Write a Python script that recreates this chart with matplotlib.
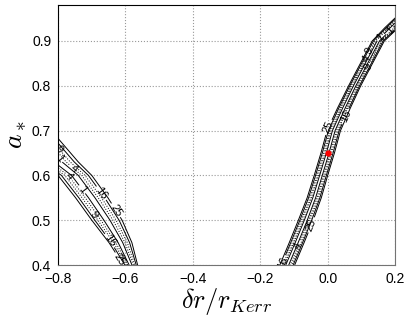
import numpy as np
from matplotlib import pyplot as plt

plt.rcParams['font.family'] = ['Liberation Sans', 'DejaVu Sans']
plt.rcParams['mathtext.fontset'] = 'cm'

# valley centre lines (a_* -> delta r / r_Kerr)
right_a = [0.38, 0.40, 0.45, 0.50, 0.55, 0.60, 0.65, 0.70, 0.75, 0.80, 0.85, 0.90, 0.93, 0.98]
right_x = [-0.13, -0.12, -0.092, -0.065, -0.04, -0.02, 0.0, 0.018, 0.048, 0.08, 0.115, 0.15, 0.19, 0.26]
right_hw = [0.022, 0.022, 0.022, 0.022, 0.021, 0.02, 0.02, 0.02, 0.019, 0.018, 0.018, 0.018, 0.02, 0.02]

left_a = [0.38, 0.40, 0.45, 0.50, 0.55, 0.60, 0.63, 0.70]
left_x = [-0.575, -0.585, -0.615, -0.655, -0.70, -0.75, -0.80, -0.88]
left_hw = [0.02, 0.021, 0.034, 0.045, 0.048, 0.05, 0.06, 0.06]

levels = [1, 4, 9, 16, 25]
styles = ['solid', 'dotted', 'dotted', 'solid', 'solid']
best_fit = (0.0, 0.65)

xs = np.linspace(-0.8, 0.2, 700)
ys = np.linspace(0.4, 0.98, 500)
X, Y = np.meshgrid(xs, ys)

def valley(ca, cx, hw):
    c = np.interp(Y, ca, cx)
    w = np.interp(Y, ca, hw)
    return 25 * ((X - c) / w) ** 2

chi2 = np.minimum(valley(right_a, right_x, right_hw), valley(left_a, left_x, left_hw))

fig = plt.figure(figsize=(4.09, 3.22), dpi=100)
ax = fig.add_axes([0.142, 0.177, 0.824, 0.807])
cs = ax.contour(X, Y, chi2, levels=levels, colors='k', linestyles=styles, linewidths=0.7)
ax.clabel(cs, fmt='%d', fontsize=8, inline=True, inline_spacing=2)
ax.plot([best_fit[0]], [best_fit[1]], 'o', color='red', ms=3.5, mec='red')

ax.set_xlim(-0.8, 0.2)
ax.set_ylim(0.4, 0.98)
ax.set_xticks([-0.8, -0.6, -0.4, -0.2, 0.0, 0.2])
ax.set_yticks([0.4, 0.5, 0.6, 0.7, 0.8, 0.9])
ax.grid(True, linestyle=':', color='0.6', linewidth=0.8)
ax.tick_params(length=0, labelsize=10, pad=5)
ax.spines['right'].set_color('0.45')
ax.spines['bottom'].set_color('0.45')
ax.set_xlabel(r'$\delta r/r_{Kerr}$', fontsize=19, labelpad=0)
ax.set_ylabel(r'$a_*$', fontsize=20, labelpad=2)

fig.savefig('out.png', dpi=100)
